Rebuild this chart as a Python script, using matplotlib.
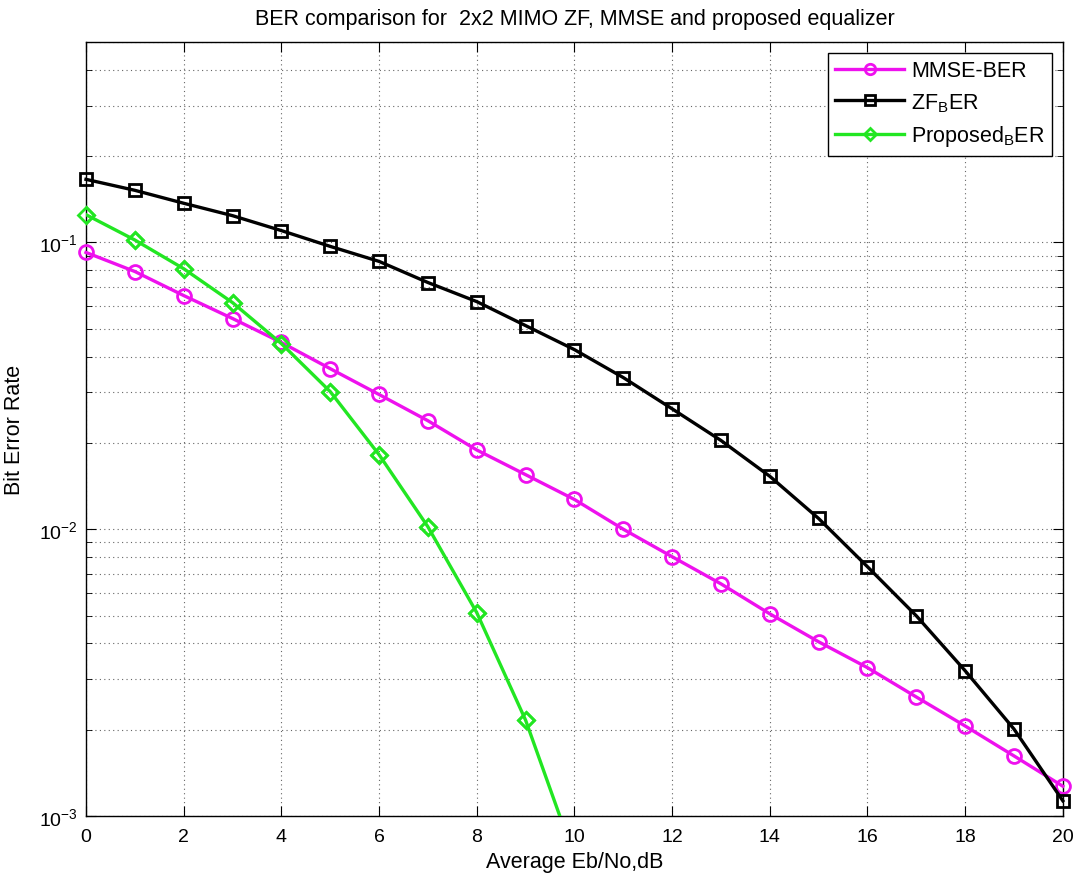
import matplotlib
matplotlib.use('Agg')
import matplotlib.pyplot as plt
from matplotlib.ticker import LogLocator, NullFormatter

plt.rcParams['font.family'] = ['Liberation Sans', 'DejaVu Sans']
plt.rcParams['mathtext.fontset'] = 'custom'
plt.rcParams['mathtext.rm'] = 'Liberation Sans'
plt.rcParams['mathtext.it'] = 'Liberation Sans'

# data
snr_db = list(range(0, 21))
mmse_ber = [0.0923, 0.0792, 0.0653, 0.0543, 0.0448, 0.0363, 0.0295, 0.0239, 0.0189, 0.0155,
            0.0127, 0.0100, 0.00802, 0.00645, 0.00507, 0.00405, 0.00329, 0.00260, 0.00206,
            0.00162, 0.00127]
zf_ber = [0.166, 0.152, 0.137, 0.124, 0.110, 0.0969, 0.0859, 0.0725, 0.0622, 0.0513,
          0.0423, 0.0338, 0.0263, 0.0204, 0.0153, 0.0109, 0.0074, 0.00499, 0.00321,
          0.00201, 0.00113]
prop_snr = list(range(0, 11))
prop_ber = [0.125, 0.102, 0.0810, 0.0617, 0.0444, 0.0302, 0.0182, 0.0102, 0.00512,
            0.00216, 0.00072]

y_min, y_max = 1e-3, 0.5
magenta = '#ee11ee'
green = '#22e622'

fig = plt.figure(figsize=(10.79, 8.78), dpi=100)
ax = fig.add_axes([0.0797, 0.0695, 0.9053, 0.8815])

ax.semilogy(snr_db, mmse_ber, '-o', color=magenta, lw=2.4, ms=10, mfc='none', mew=2,
            label='MMSE-BER', clip_on=False, zorder=3)
ax.semilogy(snr_db, zf_ber, '-s', color='black', lw=2.4, ms=9, mfc='none', mew=2,
            label='ZF$_B$ER', clip_on=False, zorder=3)
ax.semilogy(prop_snr, prop_ber, '-D', color=green, lw=2.4, ms=8, mfc='none', mew=2,
            label='Proposed$_B$ER', zorder=3)
# markers of the proposed curve that lie inside the plot, drawn unclipped like MATLAB
vis = [(x, y) for x, y in zip(prop_snr, prop_ber) if y >= y_min]
ax.semilogy([p[0] for p in vis], [p[1] for p in vis], 'D', color=green, ms=8, mfc='none',
            mew=2, clip_on=False, zorder=3)

ax.set_xlim(0, 20)
ax.set_ylim(y_min, y_max)
ax.set_xticks(range(0, 21, 2))
ax.yaxis.set_minor_locator(LogLocator(base=10, subs=range(2, 10)))
ax.yaxis.set_minor_formatter(NullFormatter())

ax.tick_params(which='both', direction='in', top=True, right=True, labelsize=14)
ax.tick_params(which='major', length=7)
ax.tick_params(which='minor', length=4)
ax.tick_params(axis='x', pad=9)
ax.tick_params(axis='y', pad=6)
grid_style = dict(linestyle=(0, (1, 3)), color='#666666', lw=0.8)
ax.grid(True, which='major', **grid_style)
ax.grid(True, which='minor', axis='y', **grid_style)
for s in ax.spines.values():
    s.set_linewidth(1)

ax.set_title('BER comparison for  2x2 MIMO ZF, MMSE and proposed equalizer', fontsize=15.5, pad=13)
ax.set_xlabel('Average Eb/No,dB', fontsize=15.5, labelpad=4)
ax.set_ylabel('Bit Error Rate', fontsize=15.5, labelpad=10)

leg = ax.legend(loc='upper right', fontsize=15.5, fancybox=False, edgecolor='black',
                framealpha=1, borderaxespad=0.5, handlelength=3.2, labelspacing=0.45,
                markerscale=0.75, borderpad=0.35, handletextpad=0.3)
leg.get_frame().set_linewidth(1)

fig.savefig('out.png', dpi=100)
